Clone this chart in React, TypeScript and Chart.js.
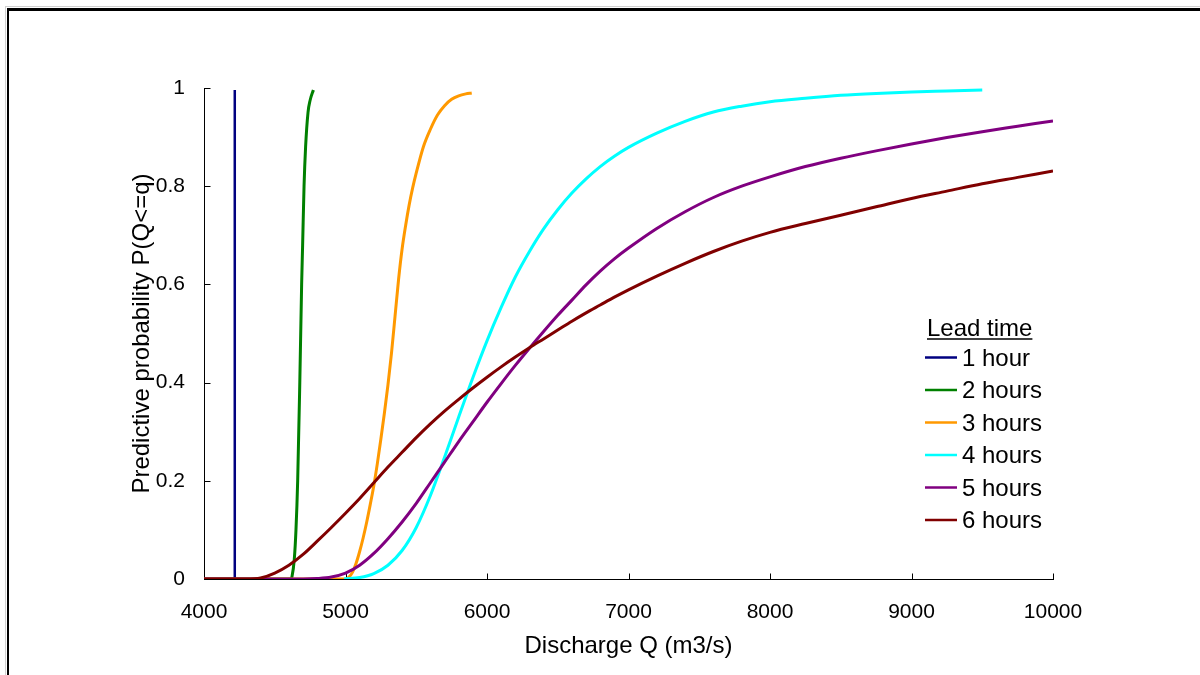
import React, { useEffect, useRef } from 'react';
import { Chart, registerables } from 'chart.js';

Chart.register(...registerables);

const FONT = "'Liberation Sans', Arial, sans-serif";

// Series: lead times
const leadLabels = ['1 hour', '2 hours', '3 hours', '4 hours', '5 hours', '6 hours'];
const leadColors = ['#000080', '#008000', '#FF9900', '#00FFFF', '#800080', '#800000'];

// Axis ticks
const xTicks = [4000, 5000, 6000, 7000, 8000, 9000, 10000];
const yTicks = [0, 0.2, 0.4, 0.6, 0.8, 1];
const yTickLabels = ['0', '0.2', '0.4', '0.6', '0.8', '1'];

// 1 hour
const q1 = [4000, 4216, 4217, 4218];
const p1 = [0, 0, 0.5, 0.996];

// 2 hours
const q2 = [4000, 4615, 4622, 4638, 4650, 4662, 4677, 4690, 4697, 4707, 4718, 4735, 4750, 4773];
const p2 = [0, 0, 0.005, 0.04, 0.1, 0.2, 0.4, 0.6, 0.68, 0.8, 0.88, 0.95, 0.975, 0.996];

// 3 hours
const q3 = [4000, 5000, 5025, 5050, 5075, 5100, 5125, 5150, 5175, 5200, 5225, 5250, 5275, 5300, 5325, 5350, 5375, 5400, 5425, 5450, 5475, 5500, 5550, 5600, 5650, 5700, 5750, 5800, 5850, 5892];
const p3 = [0, 0, 0.004, 0.014, 0.032, 0.056, 0.084, 0.116, 0.152, 0.19, 0.235, 0.285, 0.338, 0.395, 0.46, 0.535, 0.61, 0.672, 0.72, 0.762, 0.797, 0.827, 0.88, 0.916, 0.945, 0.964, 0.977, 0.984, 0.988, 0.99];

// 4 hours
const q4 = [4990, 5100, 5200, 5300, 5400, 5500, 5600, 5700, 5800, 5900, 6000, 6100, 6200, 6300, 6400, 6500, 6600, 6700, 6800, 6900, 7000, 7200, 7400, 7600, 7800, 8000, 8250, 8500, 8750, 9000, 9250, 9500];
const p4 = [0, 0.003, 0.011, 0.028, 0.058, 0.105, 0.17, 0.248, 0.33, 0.41, 0.485, 0.553, 0.615, 0.667, 0.713, 0.752, 0.786, 0.815, 0.84, 0.861, 0.879, 0.908, 0.932, 0.951, 0.963, 0.972, 0.979, 0.985, 0.989, 0.992, 0.994, 0.996];

// 5 hours
const q5 = [4000, 4700, 4800, 4900, 5000, 5100, 5200, 5300, 5400, 5500, 5600, 5700, 5800, 5900, 6000, 6100, 6200, 6300, 6400, 6500, 6600, 6700, 6800, 6900, 7000, 7200, 7400, 7600, 7800, 8000, 8250, 8500, 8750, 9000, 9250, 9500, 9750, 10000];
const p5 = [0, 0, 0.001, 0.004, 0.012, 0.028, 0.052, 0.082, 0.116, 0.154, 0.196, 0.238, 0.28, 0.32, 0.36, 0.398, 0.435, 0.47, 0.504, 0.537, 0.568, 0.599, 0.627, 0.652, 0.674, 0.714, 0.748, 0.777, 0.8, 0.819, 0.84, 0.857, 0.872, 0.886, 0.899, 0.911, 0.922, 0.933];

// 6 hours
const q6 = [4000, 4300, 4400, 4500, 4600, 4700, 4800, 4900, 5000, 5100, 5200, 5300, 5400, 5500, 5600, 5700, 5800, 5900, 6000, 6100, 6200, 6300, 6400, 6500, 6600, 6700, 6800, 6900, 7000, 7200, 7400, 7600, 7800, 8000, 8250, 8500, 8750, 9000, 9250, 9500, 9750, 10000];
const p6 = [0, 0, 0.002, 0.012, 0.028, 0.05, 0.077, 0.105, 0.134, 0.164, 0.196, 0.228, 0.258, 0.288, 0.316, 0.342, 0.366, 0.389, 0.411, 0.432, 0.452, 0.471, 0.489, 0.507, 0.525, 0.542, 0.558, 0.574, 0.589, 0.617, 0.643, 0.667, 0.688, 0.706, 0.724, 0.741, 0.758, 0.775, 0.79, 0.805, 0.818, 0.831];

const seriesQ = [q1, q2, q3, q4, q5, q6];
const seriesP = [p1, p2, p3, p4, p5, p6];

const innerTicks = {
  id: 'innerTicks',
  beforeDatasetsDraw(chart: any) {
    const { ctx, scales } = chart;
    const x = scales.x;
    const y = scales.y;
    const axisY = Math.round(x.top) + 0.5;
    const axisX = Math.round(y.right) + 0.5;
    ctx.save();
    ctx.strokeStyle = '#000';
    ctx.lineWidth = 1;
    ctx.beginPath();
    xTicks.forEach((v) => {
      const px = Math.round(x.getPixelForValue(v)) + 0.5;
      ctx.moveTo(px, axisY);
      ctx.lineTo(px, axisY - 6);
    });
    yTicks.forEach((v) => {
      const py = Math.round(y.getPixelForValue(v)) + 0.5;
      ctx.moveTo(axisX, py);
      ctx.lineTo(axisX + 6, py);
    });
    ctx.stroke();
    ctx.restore();
  },
};

const leadLegend = {
  id: 'leadLegend',
  afterDraw(chart: any) {
    const ctx = chart.ctx;
    const x0 = 925;
    const titleBase = 336;
    const rowY0 = 357.5;
    const rowGap = 32.5;
    ctx.save();
    ctx.font = `24px ${FONT}`;
    ctx.fillStyle = '#000';
    ctx.textAlign = 'left';
    ctx.textBaseline = 'alphabetic';
    const title = 'Lead time';
    ctx.fillText(title, x0 + 2, titleBase);
    const w = ctx.measureText(title).width;
    ctx.strokeStyle = '#000';
    ctx.lineWidth = 1.5;
    ctx.beginPath();
    ctx.moveTo(x0 + 2, titleBase + 3);
    ctx.lineTo(x0 + 2 + w, titleBase + 3);
    ctx.stroke();
    chart.data.datasets.forEach((ds: any, i: number) => {
      const yy = rowY0 + i * rowGap;
      ctx.strokeStyle = ds.borderColor;
      ctx.lineWidth = 2.5;
      ctx.beginPath();
      ctx.moveTo(x0, yy);
      ctx.lineTo(x0 + 32, yy);
      ctx.stroke();
      ctx.fillStyle = '#000';
      ctx.fillText(ds.label, x0 + 37, yy + 8);
    });
    ctx.restore();
  },
};

export default function App() {
  const canvasRef = useRef<HTMLCanvasElement | null>(null);

  useEffect(() => {
    if (!canvasRef.current) return;
    Chart.defaults.font.family = FONT;
    Chart.defaults.color = '#000';

    const datasets = leadLabels.map((label, i) => ({
      label,
      data: seriesQ[i].map((q, j) => ({ x: q, y: seriesP[i][j] })),
      borderColor: leadColors[i],
      backgroundColor: leadColors[i],
      borderWidth: i === 0 ? 2.5 : 3,
      pointRadius: 0,
      fill: false,
      order: leadLabels.length - 1 - i,
      cubicInterpolationMode: i === 0 ? 'default' : 'monotone',
      tension: i === 0 ? 0 : 0.4,
    }));

    const chart = new Chart(canvasRef.current, {
      type: 'line',
      data: { datasets } as any,
      plugins: [innerTicks, leadLegend],
      options: {
        animation: false,
        responsive: false,
        maintainAspectRatio: false,
        layout: { padding: { left: 0, top: 88, right: 147, bottom: 0 } },
        plugins: {
          legend: { display: false },
          tooltip: { enabled: false },
        },
        scales: {
          x: {
            type: 'linear',
            min: 4000,
            max: 10000,
            afterFit: (scale: any) => {
              scale.height = 96;
            },
            afterBuildTicks: (scale: any) => {
              scale.ticks = xTicks.map((v) => ({ value: v }));
            },
            ticks: {
              font: { size: 21 },
              color: '#000',
              padding: 21,
              maxRotation: 0,
              callback: (v: any) => String(v),
            },
            grid: { display: false, drawOnChartArea: false, drawTicks: false },
            border: { display: true, color: '#000', width: 1 },
            title: {
              display: true,
              text: 'Discharge Q (m3/s)',
              font: { size: 24 },
              color: '#000',
              padding: { top: 0, bottom: 14 },
            },
          },
          y: {
            type: 'linear',
            min: 0,
            max: 1,
            afterFit: (scale: any) => {
              scale.width = 204;
            },
            afterBuildTicks: (scale: any) => {
              scale.ticks = yTicks.map((v) => ({ value: v }));
            },
            ticks: {
              font: { size: 21 },
              color: '#000',
              padding: 19,
              callback: (v: any) => {
                const idx = yTicks.findIndex((t) => Math.abs(t - v) < 1e-9);
                return idx >= 0 ? yTickLabels[idx] : '';
              },
            },
            grid: { display: false, drawOnChartArea: false, drawTicks: false },
            border: { display: true, color: '#000', width: 1 },
            title: {
              display: true,
              text: 'Predictive probability P(Q<=q)',
              font: { size: 24 },
              color: '#000',
              padding: { top: 128, bottom: 0 },
            },
          },
        },
      } as any,
    });

    return () => {
      chart.destroy();
    };
  }, []);

  return (
    <div
      style={{
        position: 'fixed',
        left: 0,
        top: 0,
        width: 1200,
        height: 675,
        background: '#fff',
        overflow: 'hidden',
      }}
    >
      <canvas
        ref={canvasRef}
        width={1200}
        height={675}
        style={{ position: 'absolute', left: 0, top: 0, width: 1200, height: 675 }}
      />
      <div style={{ position: 'absolute', left: 5, top: 6, width: 1195, height: 1, background: '#d0d0d0' }} />
      <div style={{ position: 'absolute', left: 5, top: 6, width: 1, height: 669, background: '#d0d0d0' }} />
      <div style={{ position: 'absolute', left: 7, top: 8, width: 1193, height: 3, background: '#000' }} />
      <div style={{ position: 'absolute', left: 7, top: 8, width: 2, height: 667, background: '#000' }} />
    </div>
  );
}
